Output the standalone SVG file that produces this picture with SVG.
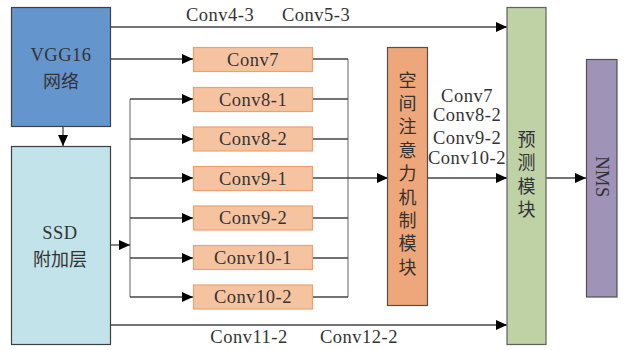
<svg xmlns="http://www.w3.org/2000/svg" width="624" height="350" viewBox="0 0 624 350">
<defs>
<marker id="ah" markerUnits="userSpaceOnUse" markerWidth="11" markerHeight="10" refX="11" refY="5" orient="auto">
<path d="M0,0 L11,5 L0,10 z" fill="#000"/>
</marker>
<style>
.t{font-family:"Liberation Serif","Times New Roman","Noto Sans CJK SC",serif;font-size:18.5px;letter-spacing:0.5px;fill:#333;text-anchor:middle;dominant-baseline:central}
.c{font-family:"Noto Sans CJK SC","Liberation Serif",sans-serif;font-size:18px;fill:#333;text-anchor:middle;dominant-baseline:central}
.v{font-family:"Noto Sans CJK SC","Liberation Serif",sans-serif;font-size:18px;fill:#333;text-anchor:middle;dominant-baseline:central;writing-mode:vertical-rl;letter-spacing:5.4px}
.conv rect{fill:#f6c3a0;stroke:#f0a070;stroke-width:1.2}
.ln{stroke:#444;stroke-width:1.3;fill:none}
.lg{stroke:#888;stroke-width:1.3;fill:none}
.ar{stroke:#444;stroke-width:1.3;fill:none;marker-end:url(#ah)}
</style>
</defs>
<g id="connectors">
<path class="ar" d="M110,27 H507"/>
<path class="ar" d="M110,59 H193"/>
<path class="ar" d="M63,126 V146"/>
<path class="ar" d="M110,325 H507"/>
<path class="lg" d="M130,99 V297"/>
<path class="ar" d="M130,99 H193"/>
<path class="ar" d="M130,139 H193"/>
<path class="ar" d="M130,178 H193"/>
<path class="ar" d="M130,218 H193"/>
<path class="ar" d="M130,258 H193"/>
<path class="ar" d="M130,297 H193"/>
<path class="ar" d="M110,245 H130"/>
<path class="lg" d="M348,59 V297"/>
<path class="ln" d="M313,59 H348 M313,99 H348 M313,139 H348 M313,178 H348 M313,218 H348 M313,258 H348 M313,297 H348"/>
<path class="ar" d="M348,178 H388"/>
<path class="ar" d="M427,178 H507"/>
<path class="ar" d="M546,178 H586"/>
<text class="t" x="220" y="15">Conv4-3</text>
<text class="t" x="316" y="15">Conv5-3</text>
<text class="t" x="467" y="96">Conv7</text>
<text class="t" x="467" y="115">Conv8-2</text>
<text class="t" x="467" y="138">Conv9-2</text>
<text class="t" x="467" y="158">Conv10-2</text>
<text class="t" x="249" y="337">Conv11-2</text>
<text class="t" x="359" y="337">Conv12-2</text>
</g>
<g id="vgg">
<rect x="11.5" y="7.5" width="99" height="119" fill="#6595cd" stroke="#404040" stroke-width="1.2"/>
<text class="t" x="61" y="55">VGG16</text>
<text class="c" x="61" y="80">网络</text>
</g>
<g id="ssd">
<rect x="11.5" y="146.5" width="99" height="198" fill="#c2e3e9" stroke="#404040" stroke-width="1.2"/>
<text class="t" x="60" y="233">SSD</text>
<text class="c" x="60" y="258">附加层</text>
</g>
<g id="conv7" class="conv"><rect x="193.5" y="47.5" width="119" height="24"/><text class="t" x="253" y="59.5">Conv7</text></g>
<g id="conv8-1" class="conv"><rect x="193.5" y="87.5" width="119" height="24"/><text class="t" x="253" y="99.5">Conv8-1</text></g>
<g id="conv8-2" class="conv"><rect x="193.5" y="127" width="119" height="24"/><text class="t" x="253" y="139">Conv8-2</text></g>
<g id="conv9-1" class="conv"><rect x="193.5" y="166.5" width="119" height="24"/><text class="t" x="253" y="178.5">Conv9-1</text></g>
<g id="conv9-2" class="conv"><rect x="193.5" y="206" width="119" height="24"/><text class="t" x="253" y="218">Conv9-2</text></g>
<g id="conv10-1" class="conv"><rect x="193.5" y="245.5" width="119" height="24"/><text class="t" x="253" y="257.5">Conv10-1</text></g>
<g id="conv10-2" class="conv"><rect x="193.5" y="285" width="119" height="24"/><text class="t" x="253" y="297">Conv10-2</text></g>
<g id="attention">
<rect x="387.5" y="47.5" width="40" height="258" fill="#eea77a" stroke="#505050" stroke-width="1.2"/>
<text class="v" x="407.5" y="176">空间注意力机制模块</text>
</g>
<g id="predict">
<rect x="507" y="7.5" width="39" height="337" fill="#bfd2a6" stroke="#606060" stroke-width="1.2"/>
<text class="v" x="526.5" y="177">预测模块</text>
</g>
<g id="nms">
<rect x="586.5" y="59.5" width="30.5" height="237.5" fill="#9f93b8" stroke="#505050" stroke-width="1.2"/>
<text class="t" x="0" y="0" transform="translate(601.5,177) rotate(90)">NMS</text>
</g>
</svg>
